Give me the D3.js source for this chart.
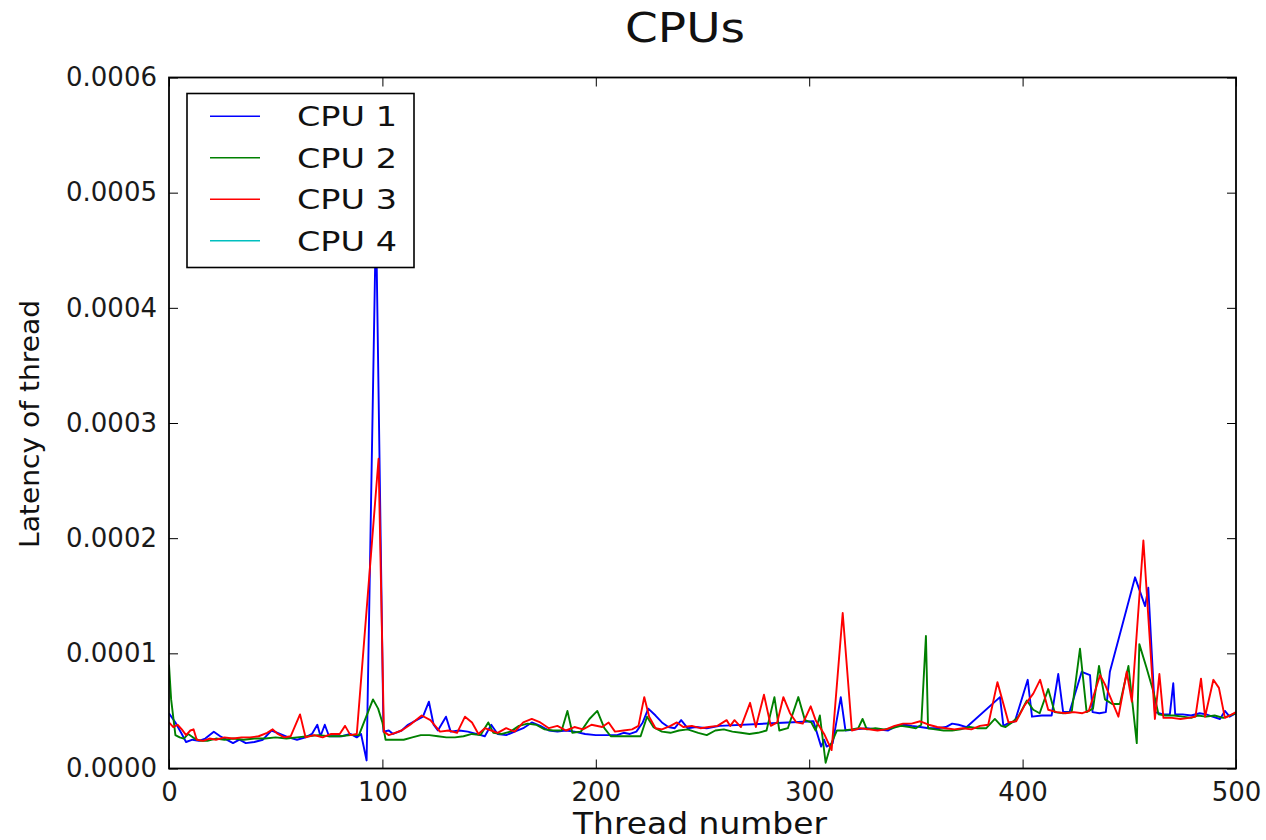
<!DOCTYPE html>
<html>
<head>
<meta charset="utf-8">
<script src="https://cdn.jsdelivr.net/npm/d3@7"></script>
<style>
  html, body { margin: 0; padding: 0; background: #ffffff; }
  svg { display: block; font-family: "DejaVu Sans", sans-serif; }
</style>
</head>
<body>
<svg id="chart" width="1266" height="840"></svg>
<script>
// ---------------- DATA ----------------
const chartTitle = "CPUs";
const xLabel = "Thread number";
const yLabel = "Latency of thread";
const seriesNames = ["CPU 1", "CPU 2", "CPU 3", "CPU 4"];
const xTicks = [0, 100, 200, 300, 400, 500];
const yTicks = [0, 0.0001, 0.0002, 0.0003, 0.0004, 0.0005, 0.0006];

// CPU 1 : thread number / latency (s)
const cpu1Threads = [0,3,6,8,11,14,17,21,24,27,30,33,36,40,44,48,52,56,60,64,67,69.5,71,73,75,78,81,85,88,90,92.6,97,100.5,103,105,109,112,116,119,121.8,124,126,129.8,132,136,140,144,148,151,154,158,162,166,170,174,178,182,186,190,195,200,205,210,213,216,219,222,224.6,228,231,234,237,240,243,247,252,255,258,302,305.6,307,308.2,311,314.8,317,322,327,332,337,341,345,348,352,356,360,364,367,370,373.8,389.4,391,393,396.4,402.4,404.4,409,413.6,416.7,419,422,427.7,431.6,432.8,436,439,440.9,452.7,457.4,458.9,462,466,469,470.6,471.5,475,479,483,486,489,492.5,494.8,497,500];
const cpu1Latency = [48e-6,40e-6,30e-6,23e-6,25e-6,24e-6,26e-6,32e-6,28e-6,25e-6,22e-6,25e-6,22e-6,23e-6,25e-6,33e-6,30e-6,27e-6,25e-6,27e-6,30e-6,38e-6,28e-6,38e-6,28e-6,28e-6,28e-6,30e-6,27e-6,30e-6,7e-6,480e-6,32e-6,33e-6,30e-6,33e-6,38e-6,42e-6,45e-6,58e-6,38e-6,33e-6,45e-6,32e-6,33e-6,32e-6,30e-6,28e-6,38e-6,30e-6,29e-6,32e-6,35e-6,40e-6,37e-6,33e-6,32e-6,33e-6,32e-6,30e-6,29e-6,29e-6,29e-6,31e-6,30e-6,32e-6,40e-6,52e-6,46e-6,40e-6,36e-6,35e-6,42e-6,35e-6,36e-6,35e-6,36e-6,37e-6,41e-6,19e-6,25e-6,19e-6,22e-6,62e-6,33e-6,34e-6,35e-6,34e-6,33e-6,37e-6,38e-6,37e-6,36e-6,35e-6,35e-6,36e-6,39e-6,38e-6,36e-6,62e-6,37e-6,39e-6,41e-6,77e-6,45e-6,46e-6,46e-6,82e-6,49e-6,49e-6,84e-6,81e-6,49e-6,48e-6,49e-6,84e-6,166e-6,141e-6,157e-6,49e-6,47e-6,47e-6,74e-6,47e-6,47e-6,46e-6,48e-6,47e-6,45e-6,43e-6,50e-6,45e-6,48e-6];

// CPU 2
const cpu2Threads = [0,1,3,5,7,9,12,15,18,22,26,30,35,40,45,50,55,60,65,70,75,80,85,89,95.6,98,100,101.5,105,110,114,118,122,126,130,134,138,142,146,149.6,152,156,160,164,168,172,176,180,184,186.7,189,193,197,200.7,204,207,212,216,221,224,227,231,235,239,243,248,252,256,260,264,268,272,276,280,283.7,286,290,294.9,298,301,303,305,307.7,310,313,316,320,323,325,327,331,335,339,343,347,350,352.5,354.7,355.7,359,363,367,371,375,379,383,387,390,392,395,398,402,405,408,412,415,419,423,426.9,430,433,435.8,438.6,442,445.6,449.6,453.5,454.7,458,461.4,463.7,467,471,475,479,482,486,490,494,497,500];
const cpu2Latency = [90e-6,60e-6,29e-6,27e-6,26e-6,30e-6,26e-6,24e-6,24e-6,26e-6,25e-6,26e-6,25e-6,26e-6,26e-6,27e-6,26e-6,27e-6,28e-6,29e-6,28e-6,28e-6,29e-6,29e-6,60e-6,52e-6,40e-6,25e-6,25e-6,25e-6,27e-6,29e-6,29e-6,28e-6,27e-6,27e-6,28e-6,30e-6,29e-6,40e-6,31e-6,30e-6,32e-6,37e-6,39e-6,38e-6,34e-6,33e-6,33e-6,50e-6,31e-6,32e-6,43e-6,50e-6,35e-6,28e-6,28e-6,28e-6,28e-6,45e-6,36e-6,32e-6,31e-6,33e-6,34e-6,31e-6,29e-6,33e-6,34e-6,32e-6,31e-6,30e-6,31e-6,33e-6,62e-6,33e-6,35e-6,62e-6,42e-6,40e-6,33e-6,46e-6,5e-6,20e-6,33e-6,33e-6,34e-6,35e-6,43e-6,34e-6,35e-6,34e-6,35e-6,37e-6,36e-6,35e-6,38e-6,115e-6,35e-6,34e-6,33e-6,33e-6,34e-6,36e-6,35e-6,35e-6,43e-6,37e-6,36e-6,40e-6,45e-6,59e-6,51e-6,48e-6,69e-6,49e-6,48e-6,49e-6,104e-6,49e-6,52e-6,89e-6,60e-6,56e-6,56e-6,89e-6,22e-6,108e-6,88e-6,66e-6,47e-6,46e-6,46e-6,45e-6,44e-6,46e-6,45e-6,46e-6,44e-6,46e-6,48e-6];

// CPU 3
const cpu3Threads = [0,2,4,6,8,10,11.5,13,16,19,22,26,30,34,38,42,46,48.6,51,54,57,61.4,64,68,72,76,80,82.5,85,88,98.2,100.7,103,106,109,113,118.4,122.5,127,131,135,138.7,142,145,148,151,154,158,162,166,170,174,178,182,186,190,194,198,203,206,209,213,217,220,222.7,225,228,231,235,238,241,245,249,253,257,261.3,263,265,268,272.3,275,278.8,282,285,287.9,291,294,297,300.7,303,307,310.5,315.7,320,324,328,332,336,340,344,348,352,356,360,364,368,372,376,380,383.9,388.2,393.4,397,401,405,408.2,412,416,420,424,428,431,436.3,438.6,444.9,448.8,451.2,456.6,462,464.1,466,470,474,478,481,483.6,485.5,489.4,492,494.8,497,500];
const cpu3Latency = [40e-6,36e-6,38e-6,34e-6,29e-6,33e-6,34e-6,25e-6,24e-6,26e-6,25e-6,27e-6,26e-6,27e-6,27e-6,28e-6,31e-6,34e-6,30e-6,27e-6,28e-6,47e-6,27e-6,29e-6,27e-6,30e-6,30e-6,37e-6,29e-6,30e-6,269e-6,32e-6,29e-6,31e-6,33e-6,38e-6,46e-6,42e-6,32e-6,33e-6,31e-6,45e-6,40e-6,30e-6,35e-6,33e-6,31e-6,35e-6,32e-6,40e-6,43e-6,40e-6,35e-6,37e-6,33e-6,36e-6,34e-6,38e-6,36e-6,40e-6,32e-6,33e-6,34e-6,37e-6,62e-6,45e-6,35e-6,34e-6,37e-6,40e-6,36e-6,37e-6,35e-6,36e-6,37e-6,42e-6,37e-6,42e-6,36e-6,57e-6,36e-6,64e-6,37e-6,40e-6,62e-6,48e-6,40e-6,39e-6,54e-6,42e-6,30e-6,16e-6,135e-6,33e-6,35e-6,34e-6,33e-6,34e-6,37e-6,39e-6,39e-6,41e-6,38e-6,36e-6,35e-6,34e-6,35e-6,34e-6,37e-6,38e-6,75e-6,40e-6,41e-6,55e-6,65e-6,77e-6,51e-6,49e-6,48e-6,49e-6,48e-6,50e-6,81e-6,73e-6,45e-6,84e-6,58e-6,198e-6,43e-6,82e-6,44e-6,44e-6,43e-6,44e-6,45e-6,78e-6,45e-6,77e-6,70e-6,44e-6,46e-6,49e-6];

// CPU 4 : no visible samples in the reference
const cpu4Threads = [];
const cpu4Latency = [];

const seriesColors = ["#0000ff", "#008000", "#ff0000", "#00bfbf"];

// ---------------- DRAW ----------------
const svg = d3.select("#chart");
const margin = { left: 169, right: 1266 - 1236, top: 77.5, bottom: 840 - 768.5 };
const W = 1266, H = 840;

const x = d3.scaleLinear().domain([0, 500]).range([margin.left, W - margin.right]);
const y = d3.scaleLinear().domain([0, 0.0006]).range([H - margin.bottom, margin.top]);

const series = [
  { name: seriesNames[0], xs: cpu1Threads, ys: cpu1Latency, color: seriesColors[0] },
  { name: seriesNames[1], xs: cpu2Threads, ys: cpu2Latency, color: seriesColors[1] },
  { name: seriesNames[2], xs: cpu3Threads, ys: cpu3Latency, color: seriesColors[2] },
  { name: seriesNames[3], xs: cpu4Threads, ys: cpu4Latency, color: seriesColors[3] }
];

svg.append("clipPath").attr("id", "plotclip")
  .append("rect")
  .attr("x", x(0)).attr("y", y(0.0006))
  .attr("width", x(500) - x(0)).attr("height", y(0) - y(0.0006));

const line = d3.line().x(d => x(d[0])).y(d => y(d[1]));

const gLines = svg.append("g").attr("clip-path", "url(#plotclip)");
series.forEach(s => {
  const pts = s.xs.map((t, i) => [t, s.ys[i]]);
  if (pts.length === 0) return;
  gLines.append("path")
    .datum(pts)
    .attr("d", line)
    .attr("fill", "none")
    .attr("stroke", s.color)
    .attr("stroke-width", 1.9)
    .attr("stroke-linejoin", "round");
});

// axes (ticks inward on all four sides, matplotlib classic)
const fmtY = d3.format(".4f");
const tickLen = 9;
const axB = svg.append("g").attr("transform", `translate(0,${y(0)})`)
  .call(d3.axisBottom(x).tickValues(xTicks).tickSizeInner(-tickLen).tickSizeOuter(0).tickPadding(tickLen + 5).tickFormat(d3.format("d")));
const axT = svg.append("g").attr("transform", `translate(0,${y(0.0006)})`)
  .call(d3.axisTop(x).tickValues(xTicks).tickSizeInner(-tickLen).tickSizeOuter(0).tickFormat(""));
const axL = svg.append("g").attr("transform", `translate(${x(0)},0)`)
  .call(d3.axisLeft(y).tickValues(yTicks).tickSizeInner(-tickLen).tickSizeOuter(0).tickPadding(tickLen + 3).tickFormat(fmtY));
const axR = svg.append("g").attr("transform", `translate(${x(500)},0)`)
  .call(d3.axisRight(y).tickValues(yTicks).tickSizeInner(-tickLen).tickSizeOuter(0).tickFormat(""));

[axB, axT, axL, axR].forEach(a => {
  a.select(".domain").remove();
  a.selectAll(".tick line").attr("stroke", "#000").attr("stroke-width", 1);
  a.selectAll("text").attr("font-family", "DejaVu Sans, sans-serif").attr("font-size", 26).attr("fill", "#1a1a1a");
});
axB.selectAll("text").attr("dy", "0.71em");

// frame
svg.append("rect")
  .attr("x", x(0)).attr("y", y(0.0006))
  .attr("width", x(500) - x(0)).attr("height", y(0) - y(0.0006))
  .attr("fill", "none").attr("stroke", "#000").attr("stroke-width", 1.8);

// title and axis labels
svg.append("text").text(chartTitle)
  .attr("x", 685).attr("y", 42).attr("text-anchor", "middle")
  .attr("font-size", 40).attr("fill", "#111")
  .attr("textLength", 120).attr("lengthAdjust", "spacingAndGlyphs");

svg.append("text").text(xLabel)
  .attr("x", 700).attr("y", 834).attr("text-anchor", "middle")
  .attr("font-size", 30).attr("fill", "#111")
  .attr("textLength", 254).attr("lengthAdjust", "spacingAndGlyphs");

svg.append("text").text(yLabel)
  .attr("transform", "translate(39,424) rotate(-90)")
  .attr("text-anchor", "middle")
  .attr("font-size", 26).attr("fill", "#111")
  .attr("textLength", 248).attr("lengthAdjust", "spacingAndGlyphs");

// legend
const lg = svg.append("g");
lg.append("rect")
  .attr("x", 187).attr("y", 93.5).attr("width", 227).attr("height", 174)
  .attr("fill", "#fff").attr("stroke", "#000").attr("stroke-width", 1.6);
const legendRowY = d3.scalePoint().domain(seriesNames).range([116.3, 240.7]);
series.forEach(s => {
  const yy = legendRowY(s.name);
  lg.append("line")
    .attr("x1", 210).attr("x2", 260).attr("y1", yy).attr("y2", yy)
    .attr("stroke", s.color).attr("stroke-width", 1.6);
  lg.append("text").text(s.name)
    .attr("x", 297).attr("y", yy + 10)
    .attr("font-size", 27).attr("fill", "#111")
    .attr("textLength", 100).attr("lengthAdjust", "spacingAndGlyphs");
});
</script>
</body>
</html>
